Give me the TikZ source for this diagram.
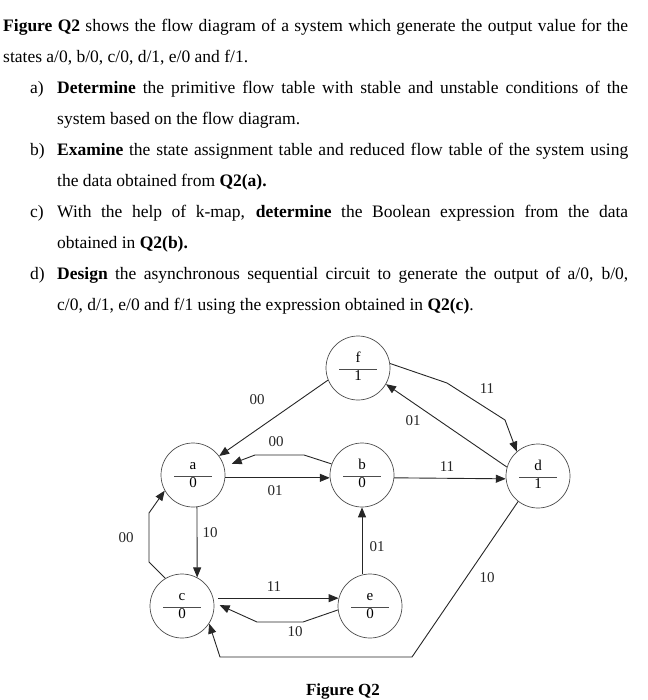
\documentclass[tikz,border=0pt]{standalone}
\usepackage{fontspec}
\setmainfont{Liberation Serif}
\usetikzlibrary{arrows.meta}
\begin{document}
\begin{tikzpicture}[x=1pt,y=-1pt,
  txt/.style={anchor=base west, inner sep=0pt, font=\fontsize{17.5}{20}\selectfont},
  st/.style={circle, draw=black!70, line width=0.7pt, minimum size=64pt, inner sep=0pt,
    font=\fontsize{15}{16}\selectfont,
    path picture={\draw[line width=0.9pt] ([xshift=-19pt,yshift=-1pt]path picture bounding box.center) -- ([xshift=19pt,yshift=-1pt]path picture bounding box.center);}},
  arr/.style={draw=black!85, line width=0.9pt, -{Triangle[length=10pt,width=8pt]}},
  lab/.style={font=\fontsize{15}{16}\selectfont, inner sep=0pt, text=black!85}
]
\useasboundingbox (0,0) rectangle (647,700);

% question text
\node[txt] (t1) at (3,32) {\makebox[625pt][s]{\textbf{Figure Q2} shows the flow diagram of a system which generate the output value for the}};
\node[txt] (t2) at (3,63) {states a/0, b/0, c/0, d/1, e/0 and f/1.};
\node[txt] (qa) at (30,94) {a)};
\node[txt] (t3) at (57,94) {\makebox[571pt][s]{\textbf{Determine} the primitive flow table with stable and unstable conditions of the}};
\node[txt] (t4) at (57,125) {system based on the flow diagram.};
\node[txt] (qb) at (30,156) {b)};
\node[txt] (t5) at (57,156) {\makebox[571pt][s]{\textbf{Examine} the state assignment table and reduced flow table of the system using}};
\node[txt] (t6) at (57,187) {the data obtained from \textbf{Q2(a).}};
\node[txt] (qc) at (30,218) {c)};
\node[txt] (t7) at (57,218) {\makebox[571pt][s]{With the help of k-map, \textbf{determine} the Boolean expression from the data}};
\node[txt] (t8) at (57,248) {obtained in \textbf{Q2(b).}};
\node[txt] (qd) at (30,279) {d)};
\node[txt] (t9) at (57,279) {\makebox[571pt][s]{\textbf{Design} the asynchronous sequential circuit to generate the output of a/0, b/0,}};
\node[txt] (t10) at (57,310) {c/0, d/1, e/0 and f/1 using the expression obtained in \textbf{Q2(c)}.};

% states
\node[st] (a) at (193,475) {\begin{tabular}{@{}c@{}}a\\[2pt]0\end{tabular}};
\node[st] (b) at (362,475) {\begin{tabular}{@{}c@{}}b\\[2pt]0\end{tabular}};
\node[st] (c) at (182,606) {\begin{tabular}{@{}c@{}}c\\[2pt]0\end{tabular}};
\node[st] (d) at (538,476) {\begin{tabular}{@{}c@{}}d\\[2pt]1\end{tabular}};
\node[st] (e) at (370,606) {\begin{tabular}{@{}c@{}}e\\[2pt]0\end{tabular}};
\node[st] (f) at (358,368) {\begin{tabular}{@{}c@{}}f\\[2pt]1\end{tabular}};

% transitions
\draw[arr] (f.202) -- (a.36);
\draw[arr, shorten >=8pt] (b.160) -- (304,455) -- (255,455) -- (a.15);
\draw[arr] (a.-5) -- (b.185);
\draw[arr] (b.-5) -- (d.185);
\draw[arr] (d.164) -- (f.330);
\draw[arr] (f.8) -- (447,383) -- (505,420) -- (d.131);
\draw[arr] (d.232) -- (412,657) -- (220,657) -- (c.327);
\draw[arr] (e.north -| b.south) -- (b.south);
\draw[arr] (a.-83) -- (c.62);
\draw[arr] (c.121) -- (149,562) -- (149,513) -- (a.209);
\draw[arr, shorten <=5pt] (c.14) -- (e.166);
\draw[arr, shorten >=6pt] (e.187) -- (303,622) -- (257,622) -- (c.6);

% labels
\node[lab] (l1) at (257,400) {00};
\node[lab] (l2) at (276,442) {00};
\node[lab] (l3) at (275,491) {01};
\node[lab] (l4) at (447,467) {11};
\node[lab] (l5) at (413,421) {01};
\node[lab] (l6) at (487,389) {11};
\node[lab] (l7) at (487,578) {10};
\node[lab] (l8) at (377,547) {01};
\node[lab] (l9) at (210,533) {10};
\node[lab] (l10) at (126,538) {00};
\node[lab] (l11) at (274,587) {11};
\node[lab] (l12) at (295,632) {10};

\node[anchor=base, inner sep=0pt, font=\bfseries\fontsize{17}{20}\selectfont] (cap) at (343,695) {Figure Q2};
\end{tikzpicture}
\end{document}
